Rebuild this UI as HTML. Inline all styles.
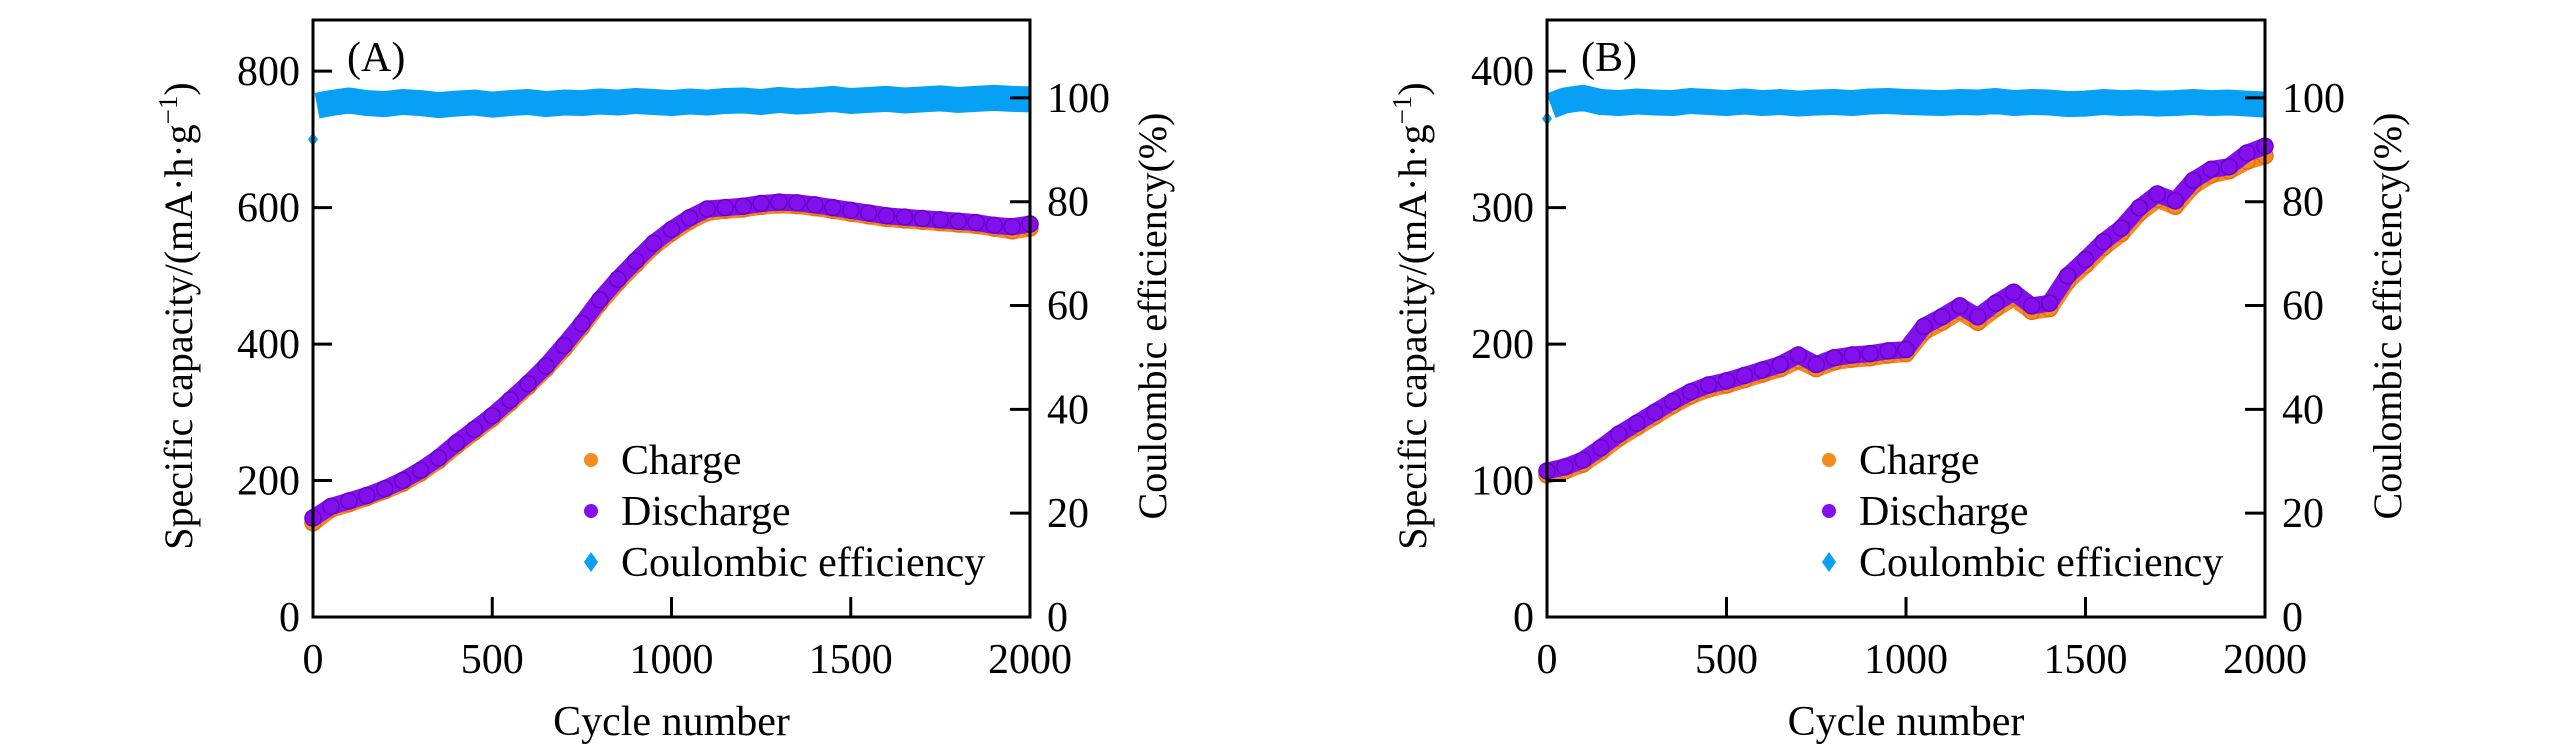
<!DOCTYPE html>
<html><head><meta charset="utf-8"><style>
body{margin:0;background:#fff}
svg{display:block}
svg text{font-family:"Liberation Serif","DejaVu Serif",serif !important}
</style></head><body>
<svg id="fig" width="2567" height="756" viewBox="0 0 2567 756"></svg>
<script>
const cycles=[0,50,100,150,200,250,300,350,400,450,500,550,600,650,700,750,800,850,900,950,1000,1050,1100,1150,1200,1250,1300,1350,1400,1450,1500,1550,1600,1650,1700,1750,1800,1850,1900,1950,2000];
const aDischarge=[145,162,170,178,188,200,215,233,255,275,295,318,342,368,398,430,465,495,522,548,568,585,598,600,602,606,608,607,604,600,596,592,588,586,584,582,580,578,574,572,576];
const aCharge=[138,158,166,175,185,196,211,229,251,271,291,314,338,364,393,425,460,490,517,543,563,580,593,596,598,602,604,603,600,596,592,588,584,582,580,578,576,574,570,566,570];
const aCE=[98.5,99,99.5,99,98.8,99.2,99,98.6,98.9,99.1,98.7,99,99.2,98.8,99.1,99,99.3,99.1,99.4,99.2,99,99.3,99.1,99.4,99.5,99.2,99.6,99.3,99.5,99.8,99.4,99.6,99.8,99.5,99.7,99.9,99.6,99.8,100,99.8,99.7];
const aCEFirst=92;
const bDischarge=[107,110,115,124,134,142,150,158,165,170,173,177,181,185,192,185,190,192,193,195,196,213,220,228,220,230,238,228,230,250,262,275,285,300,310,305,320,328,330,340,345];
const bCharge=[104,107,112,121,131,139,147,155,162,167,170,174,178,182,188,182,187,189,190,192,193,209,216,224,216,226,234,224,226,246,258,271,281,296,306,301,316,324,327,334,338];
const bCE=[98.5,99.5,100,99.2,99,99.3,99.1,99,99.4,99.2,99,99.3,99,99.2,98.9,99.1,99.2,99,99.3,99.4,99.2,99.1,99,99.2,99.1,99.4,99,99.2,99.1,98.8,98.9,99.2,99,99.1,98.9,99,99.2,99,99.1,98.9,98.7];
const bCEFirst=96;
const xTicks=[0,500,1000,1500,2000];
const rTicks=[0,20,40,60,80,100];
const aLTicks=[0,200,400,600,800];
const bLTicks=[0,100,200,300,400];
const NS="http://www.w3.org/2000/svg";
const svg=document.getElementById('fig');
function el(tag,attrs,parent,txt){const e=document.createElementNS(NS,tag);for(const k in attrs)e.setAttribute(k,attrs[k]);if(tag==='text')e.setAttribute('style','font-family:"Liberation Serif",serif');if(txt!==undefined)e.textContent=txt;(parent||svg).appendChild(e);return e;}
function panel(p){
  const g=el('g',{});
  
  
  const X=v=>p.l+(v-0)/2000*(p.r-p.l);
  const YL=v=>p.b-v/p.lmax*(p.b-p.t);
  const YR=v=>p.b-v/115*(p.b-p.t);
  let d='';cycles.forEach((c,i)=>{d+=(i?'L':'M')+(X(c)+(i?0:4))+','+YR(p.ce[i]);});
  const ce=el('path',{d:d,fill:'none',stroke:'#08a0f4','stroke-width':26,'stroke-linejoin':'round'},g);
  
  
  const ce0=el('path',{d:`M${X(0)},${YR(p.ce0)-7}l5,7l-5,7l-5,-7z`,fill:'#08a0f4'},g);
  
  
  [[p.ch,'#f58a1f','#e07010','charge-series'],[p.dis,'#8210ec','#6a00c8','discharge-series']].forEach(s=>{
    let dd='';cycles.forEach((c,i)=>{dd+=(i?'L':'M')+X(c)+','+YL(s[0][i]);});
    const ln=el('path',{d:dd,fill:'none',stroke:s[1],'stroke-width':17,'stroke-linejoin':'round','stroke-linecap':'round'},g);
    
    
    cycles.forEach((c,i)=>{const m=el('circle',{cx:X(c),cy:YL(s[0][i]),r:8,fill:s[1],stroke:s[2],'stroke-width':1.5},g);
      
      });
  });
  const fr=el('rect',{x:p.l,y:p.t,width:p.r-p.l,height:p.b-p.t,fill:'none',stroke:'#000','stroke-width':3},g);
  
  
  xTicks.forEach(v=>{el('line',{x1:X(v),x2:X(v),y1:p.b,y2:p.b-20,stroke:'#000','stroke-width':3},g);
    const t=el('text',{x:X(v),y:p.b+56,'font-size':42,'text-anchor':'middle'},g,v);
    
    });
  p.lt.forEach(v=>{el('line',{x1:p.l,x2:p.l+19,y1:YL(v),y2:YL(v),stroke:'#000','stroke-width':3},g);
    const t=el('text',{x:p.l-13,y:YL(v)+14,'font-size':42,'text-anchor':'end'},g,v);
    
    });
  rTicks.forEach(v=>{el('line',{x1:p.r,x2:p.r-20,y1:YR(v),y2:YR(v),stroke:'#000','stroke-width':3},g);
    const t=el('text',{x:p.r+17,y:YR(v)+14,'font-size':42},g,v);
    
    });
  const xl=el('text',{x:(p.l+p.r)/2,y:735,'font-size':42,'text-anchor':'middle'},g,'Cycle number');
  
  
  const yl=el('text',{x:0,y:0,'font-size':40,'text-anchor':'middle',transform:`translate(${p.l-121},316) rotate(-90)`},g);
  yl.innerHTML='Specific capacity/(mA·h·g<tspan baseline-shift="super" font-size="27">−1</tspan>)';
  
  
  const yr=el('text',{x:0,y:0,'font-size':40,'text-anchor':'middle',transform:`translate(${p.r+136},316) rotate(-90)`},g,'Coulombic efficiency(%)');
  
  
  const pl=el('text',{x:p.l+34,y:71,'font-size':42},g,'('+p.id+')');
  
  
  const leg=el('g',{},g);
  
  
  [['Charge','#f58a1f','c',460],['Discharge','#8210ec','c',511],['Coulombic efficiency','#08a0f4','d',562]].forEach(e=>{
    const it=el('g',{},leg);
    
    
    if(e[2]==='c')el('circle',{cx:p.lx,cy:e[3],r:7,fill:e[1]},it);
    else el('path',{d:`M${p.lx},${e[3]-10}l7,10l-7,10l-7,-10z`,fill:e[1]},it);
    el('text',{x:p.lx+30,y:e[3]+14,'font-size':42},it,e[0]);
  });
}
panel({id:'A',l:313,r:1030,t:20,b:617,lmax:875,lt:aLTicks,dis:aDischarge,ch:aCharge,ce:aCE,ce0:aCEFirst,lx:591});
panel({id:'B',l:1547,r:2265,t:20,b:617,lmax:437.5,lt:bLTicks,dis:bDischarge,ch:bCharge,ce:bCE,ce0:bCEFirst,lx:1829});
</script>
</body></html>
